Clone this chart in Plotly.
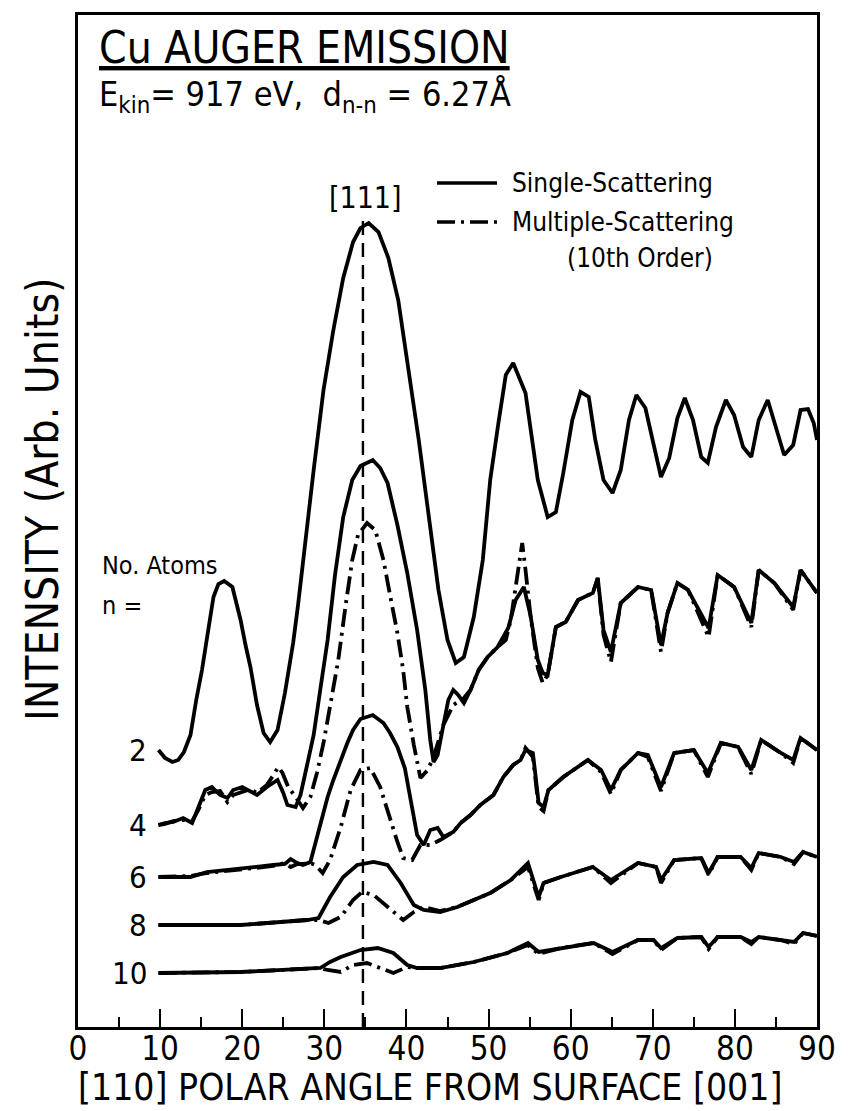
import plotly.graph_objects as go

# ---------------- data (polar angle in degrees, intensity in arb. units) ----------------
n2_angle = [9.8,10.6,11.5,12.2,12.9,13.7,14.4,15.1,15.9,16.5,17.1,17.8,18.8,19.8,20.4,21.0,21.8,22.6,23.4,24.3,
            25.2,26.2,26.8,27.4,28.7,29.9,31.1,32.3,33.5,34.4,35.4,36.6,37.8,39.0,40.2,41.5,42.7,43.9,45.0,46.0,
            47.0,48.2,49.3,50.2,51.2,52.1,53.0,54.5,56.0,57.2,58.2,59.1,60.2,61.2,62.2,63.0,64.0,65.1,66.1,67.1,
            68.0,69.1,71.0,72.0,73.0,73.9,74.9,75.9,76.7,77.7,78.9,79.9,81.0,82.0,82.9,84.0,86.0,87.1,88.0,88.9,
            89.6,90.0]
n2_single = [27.7,26.9,26.5,26.7,27.5,29.2,32.7,35.7,39.9,43.0,44.3,44.6,44.0,40.7,38.2,36.0,32.2,29.4,28.5,29.7,
             33.4,38.4,42.2,46.7,55.7,63.7,69.7,74.9,78.5,79.9,80.4,79.5,76.9,72.7,66.2,58.7,51.2,43.7,38.7,36.4,
             37.0,41.0,46.7,54.7,60.4,65.2,66.4,63.4,54.7,51.0,51.5,55.4,60.7,63.5,63.0,58.7,54.7,53.4,55.7,60.7,
             63.2,61.9,55.0,56.9,60.9,62.9,60.7,57.0,56.4,60.0,62.7,61.2,58.0,57.0,60.7,62.7,57.2,58.2,61.7,61.8,
             60.4,58.7]

n4_angle_ss = [9.8,10.6,11.6,12.8,13.9,14.6,15.5,16.3,17.3,18.2,18.9,20.0,21.0,21.8,23.0,24.3,25.0,25.5,26.5,27.1,
               27.9,28.7,29.5,30.4,31.3,32.3,33.4,34.4,35.9,36.8,37.7,38.9,40.1,41.3,42.3,42.9,43.3,43.8,44.5,45.1,
               45.7,46.3,47.0,47.8,48.8,49.9,51.1,52.4,53.3,54.3,55.1,56.0,56.6,57.2,58.2,59.4,60.9,62.7,63.3,64.0,
               64.9,66.1,68.2,69.8,71.0,71.8,73.0,74.3,76.8,77.9,79.9,82.0,82.9,84.8,87.1,88.0,90.0]
n4_single = [20.2,20.4,20.5,20.9,20.4,21.9,23.7,24.0,23.2,22.9,23.7,24.0,23.5,23.2,24.0,24.7,23.4,22.2,22.0,23.2,
             26.2,29.2,33.7,38.7,45.2,51.0,54.7,56.1,56.7,55.9,54.4,50.2,45.4,39.7,33.7,28.7,26.5,27.2,30.2,32.7,
             33.7,33.2,32.4,33.7,35.7,37.0,38.0,39.9,42.7,44.0,41.2,36.7,35.4,35.2,40.0,40.5,42.7,43.4,44.9,39.7,
             37.5,42.4,44.0,43.7,38.2,41.4,44.4,43.7,39.9,45.2,44.0,40.4,45.7,44.4,42.0,45.7,43.4]
n4_angle_ms = [9.8,10.6,11.6,12.8,13.9,14.6,15.5,16.3,17.3,18.2,18.9,20.0,21.0,21.8,23.0,23.8,24.4,24.9,25.6,26.5,
               27.4,28.3,29.1,29.9,30.7,31.7,32.6,33.4,34.1,35.2,36.2,37.2,38.0,38.9,39.6,40.1,40.9,41.7,42.6,43.3,
               44.5,45.7,47.0,47.8,48.8,49.9,51.1,52.1,52.7,53.5,54.1,54.5,55.1,56.0,56.6,57.2,58.2,59.4,60.9,62.7,
               63.3,64.0,64.9,66.1,68.2,69.8,71.0,71.8,73.0,74.3,76.8,77.9,79.9,82.0,82.9,84.8,87.1,88.0,90.0]
n4_multiple = [20.2,20.3,20.6,20.7,20.6,21.6,23.2,23.5,23.6,22.5,23.2,23.5,23.8,23.4,24.2,25.2,26.0,25.4,24.0,23.0,
               21.9,23.0,25.4,28.4,32.2,36.7,42.2,46.7,49.2,50.4,49.7,46.7,43.2,39.4,35.7,32.0,28.2,24.9,25.7,27.0,
               30.2,32.2,32.9,33.7,35.7,37.0,38.0,38.7,40.7,45.2,48.4,45.7,41.2,35.9,34.4,35.2,40.0,40.5,42.7,43.4,
               44.9,39.2,36.5,42.4,44.0,43.7,37.5,41.4,44.4,43.7,39.0,45.2,44.0,40.0,45.7,44.4,41.7,45.7,43.4]

n6_angle_ss = [9.8,13.7,15.7,19.8,23.8,25.2,25.9,26.7,27.4,28.3,29.1,30.4,31.1,32.0,32.8,33.5,34.4,35.9,37.2,38.0,
               38.9,39.8,40.5,41.3,42.1,42.9,43.8,44.5,45.7,46.6,47.8,49.0,50.6,51.8,53.0,53.9,54.5,55.4,56.1,56.7,
               57.3,59.1,62.1,63.7,64.9,66.1,68.2,69.4,71.0,72.6,75.0,76.7,78.3,80.4,82.0,83.2,85.6,87.1,88.0,90.0]
n6_single = [15.0,15.0,15.5,15.9,16.2,16.3,16.8,16.4,16.2,16.5,19.0,23.0,24.7,26.7,28.4,29.7,30.8,31.2,30.4,29.4,
             28.0,25.9,22.7,19.2,18.2,19.7,19.9,19.0,19.5,20.4,21.2,22.2,23.2,25.0,26.2,26.7,27.7,27.4,22.4,22.0,
             23.7,25.0,26.7,25.7,23.7,25.7,27.4,27.2,24.0,27.4,27.7,25.4,28.4,28.0,25.7,28.7,27.4,26.7,28.9,27.7]
n6_angle_ms = [9.8,13.7,15.7,19.8,23.8,25.2,25.9,26.7,27.4,28.3,28.9,29.8,30.7,32.0,33.2,34.4,35.6,36.8,38.0,38.9,
               39.6,40.7,41.7,42.9,44.1,45.7,46.6,47.8,49.0,50.6,51.8,53.0,53.9,54.5,55.4,56.1,56.7,57.3,59.1,62.1,
               63.7,64.9,66.1,68.2,69.4,71.0,72.6,75.0,76.7,78.3,80.4,82.0,83.2,85.6,87.1,88.0,90.0]
n6_multiple = [15.0,15.1,15.4,15.8,16.1,16.4,16.0,16.3,16.3,16.4,16.2,15.4,16.7,20.0,23.7,25.7,25.9,24.0,20.7,18.5,
               16.9,16.7,18.2,18.2,18.7,19.5,20.4,21.2,22.2,23.2,25.0,26.2,26.7,27.9,27.0,22.0,21.6,23.7,25.0,26.7,
               25.5,23.3,25.7,27.4,27.0,23.6,27.4,27.7,25.0,28.4,28.0,25.3,28.7,27.4,26.4,28.9,27.7]

n8_angle_ss = [9.8,19.8,27.9,29.3,30.7,32.3,34.0,36.0,37.7,39.3,40.9,42.1,44.1,46.2,50.2,52.7,54.8,56.1,56.7,58.8,
               62.7,64.9,68.2,70.4,71.0,72.6,75.9,76.8,77.9,80.7,82.0,82.9,85.6,87.2,88.3,90.0]
n8_single = [10.2,10.2,10.7,10.9,13.0,15.0,16.2,16.5,16.2,14.4,12.2,11.7,11.5,12.0,13.4,14.7,16.4,13.0,14.4,15.0,
             16.0,14.7,16.4,16.0,14.7,16.7,16.9,15.4,17.0,17.0,15.9,17.4,17.0,16.5,17.5,17.0]
n8_angle_ms = [9.8,19.8,27.9,29.3,30.5,32.0,33.5,34.6,36.0,37.7,39.6,40.9,42.1,44.1,46.2,50.2,52.7,54.8,56.1,56.7,
               58.8,62.7,64.9,68.2,70.4,71.0,72.6,75.9,76.8,77.9,80.7,82.0,82.9,85.6,87.2,88.3,90.0]
n8_multiple = [10.2,10.2,10.7,10.7,10.4,11.0,12.7,13.5,13.2,12.0,10.7,11.5,12.0,11.6,12.0,13.4,14.7,16.0,12.7,14.4,
               15.0,16.0,14.4,16.4,16.0,14.4,16.7,16.9,15.2,17.0,17.0,15.7,17.4,17.0,16.3,17.5,17.0]

n10_angle_ss = [9.8,19.8,29.5,30.7,32.0,34.4,36.5,38.4,40.1,41.3,44.1,48.2,52.3,54.8,56.1,58.8,62.8,65.1,68.2,70.1,
                71.0,73.0,75.9,76.8,77.9,80.7,82.0,82.9,85.6,87.2,88.3,90.0]
n10_single = [5.4,5.5,5.9,6.5,7.0,7.7,7.9,7.4,6.2,5.9,5.9,6.5,7.4,8.4,7.5,7.9,8.4,7.5,8.7,8.7,
              7.9,8.9,9.0,8.0,9.0,9.0,8.5,9.0,8.7,8.5,9.4,9.1]
n10_angle_ms = [9.8,19.8,29.5,30.4,32.0,33.5,35.2,36.8,38.4,40.1,41.3,44.1,48.2,52.3,54.8,56.1,58.8,62.8,65.1,68.2,
                70.1,71.0,73.0,75.9,76.8,77.9,80.7,82.0,82.9,85.6,87.2,88.3,90.0]
n10_multiple = [5.4,5.5,5.9,5.7,5.5,6.2,6.4,5.9,5.4,6.0,5.9,5.9,6.5,7.4,8.2,7.3,7.9,8.4,7.3,8.7,
                8.7,7.7,8.9,9.0,7.8,9.0,9.0,8.3,9.0,8.7,8.3,9.4,9.1]

atom_counts = ["2", "4", "6", "8", "10"]
direction_111 = 34.7          # [111] emission direction (deg)
direction_111_top = 81.2
x_ticks = [0, 10, 20, 30, 40, 50, 60, 70, 80, 90]

# ---------------- figure ----------------
FONT = "Liberation Sans Narrow, DejaVu Sans Condensed, Liberation Sans, sans-serif"
BLACK = "#000000"
DASHDOT = "18px,6px,3px,6px"
LW = 3.8

fig = go.Figure()

singles = [(n2_angle, n2_single), (n4_angle_ss, n4_single), (n6_angle_ss, n6_single),
           (n8_angle_ss, n8_single), (n10_angle_ss, n10_single)]
multiples = [(n4_angle_ms, n4_multiple), (n6_angle_ms, n6_multiple),
             (n8_angle_ms, n8_multiple), (n10_angle_ms, n10_multiple)]

for ang, val in singles:
    fig.add_trace(go.Scatter(x=ang, y=val, mode="lines", showlegend=False,
                             line=dict(color=BLACK, width=LW)))
for ang, val in multiples:
    fig.add_trace(go.Scatter(x=ang, y=val, mode="lines", showlegend=False,
                             line=dict(color=BLACK, width=LW, dash=DASHDOT)))

# [111] dashed guide
fig.add_trace(go.Scatter(x=[direction_111, direction_111], y=[0, direction_111_top], mode="lines",
                         showlegend=False, line=dict(color=BLACK, width=2.4, dash="14px,8px")))

annotations = []
# atom-count labels next to the start of each curve
for lab, (ang, val) in zip(atom_counts, singles):
    annotations.append(dict(x=ang[0] - 1.2, y=val[0], xref="x", yref="y", text=lab, showarrow=False,
                            xanchor="right", yanchor="middle", font=dict(size=31, family=FONT, color=BLACK)))

def px(x):
    return (x - 78) / 739.0

def py(y):
    return (1027 - y) / 1012.0

text_items = [
    ("<u>Cu AUGER EMISSION</u>", 97, 47, 44, "left"),
    ("E<sub>kin</sub>= 917 eV,  d<sub>n-n</sub> = 6.27Å", 97, 97, 34, "left"),
    ("[111]", 365, 198, 30, "center"),
    ("Single-Scattering", 510, 183, 26, "left"),
    ("Multiple-Scattering", 510, 222, 26, "left"),
    ("(10th Order)", 640, 258, 26, "center"),
    ("No. Atoms", 100, 565, 25, "left"),
    ("n =", 100, 605, 25, "left"),
    ("[110] POLAR ANGLE FROM SURFACE [001]", 430, 1087, 37, "center"),
]
for txt, x, y, s, anc in text_items:
    annotations.append(dict(x=px(x), y=py(y), xref="paper", yref="paper", text=txt, showarrow=False,
                            xanchor=anc, yanchor="middle", font=dict(size=s, family=FONT, color=BLACK)))

annotations.append(dict(x=px(42), y=py(500), xref="paper", yref="paper", text="INTENSITY (Arb. Units)",
                        showarrow=False, textangle=-90, xanchor="center", yanchor="middle",
                        font=dict(size=44, family=FONT, color=BLACK)))

shapes = [
    dict(type="line", xref="paper", yref="paper", x0=px(437), x1=px(497), y0=py(183), y1=py(183),
         line=dict(color=BLACK, width=3.4)),
    dict(type="line", xref="paper", yref="paper", x0=px(437), x1=px(497), y0=py(222), y1=py(222),
         line=dict(color=BLACK, width=3.4, dash=DASHDOT)),
]

fig.update_layout(
    width=859, height=1111,
    margin=dict(l=78, r=42, t=15, b=84, pad=0),
    paper_bgcolor="white", plot_bgcolor="white",
    font=dict(family=FONT, color=BLACK),
    annotations=annotations, shapes=shapes,
    xaxis=dict(range=[0, 90], showline=True, linecolor=BLACK, linewidth=3, mirror=True,
               ticks="inside", tickvals=x_ticks, ticktext=[str(v) for v in x_ticks],
               ticklen=18, tickwidth=2, tickcolor=BLACK, ticklabelstandoff=-10,
               minor=dict(ticks="inside", dtick=5, tick0=0, ticklen=10, tickwidth=2, tickcolor=BLACK,
                          showgrid=False),
               showgrid=False, zeroline=False, tickfont=dict(size=33, family=FONT, color=BLACK)),
    yaxis=dict(range=[0, 101.2], showline=True, linecolor=BLACK, linewidth=3, mirror=True,
               ticks="", showticklabels=False, showgrid=False, zeroline=False),
)

fig.write_html("out.html")
